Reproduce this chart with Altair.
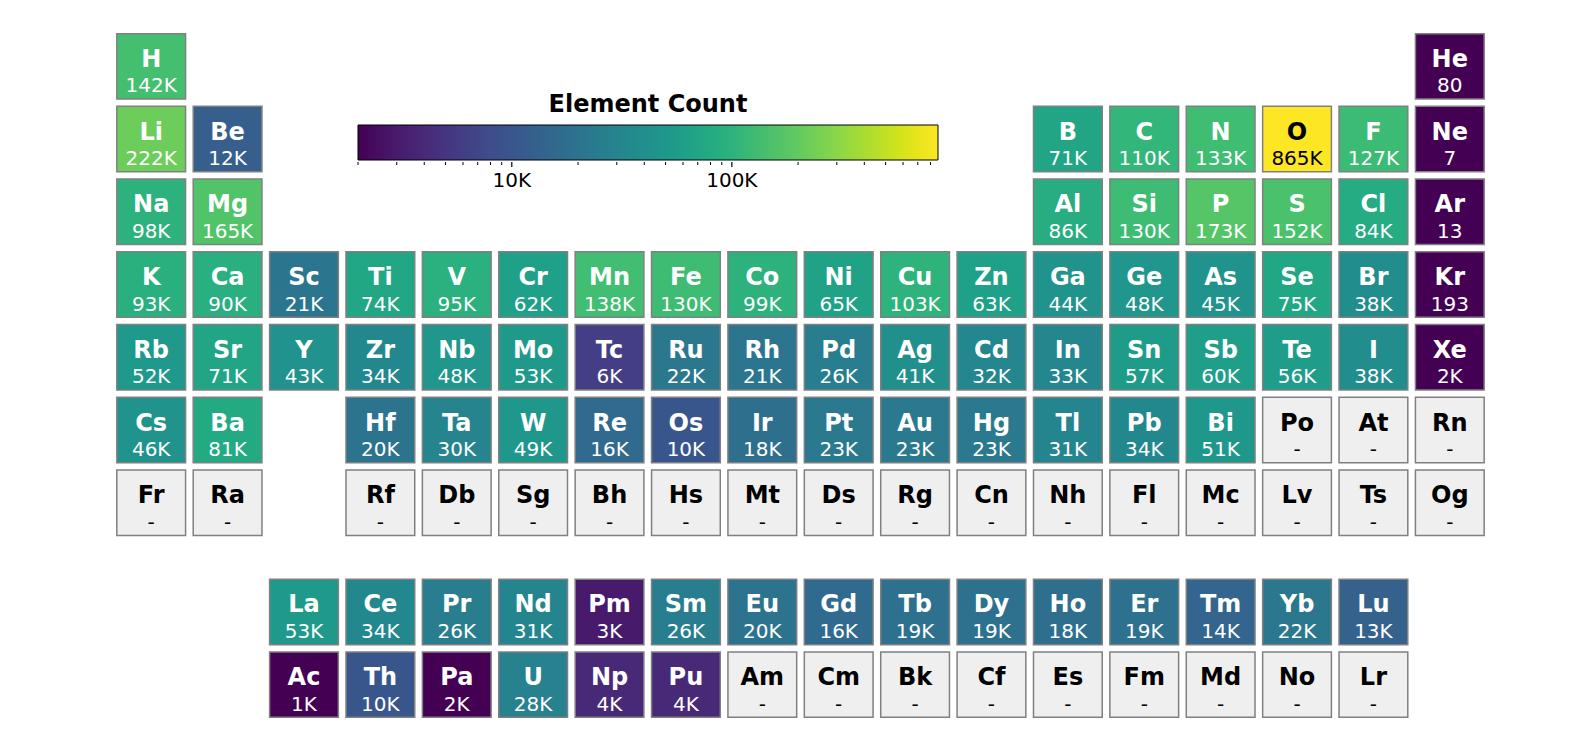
import altair as alt
import pandas as pd

# Element symbols, group (column), period (row) and element count (None = no data)
symbols = [
    "H", "He",
    "Li", "Be", "B", "C", "N", "O", "F", "Ne",
    "Na", "Mg", "Al", "Si", "P", "S", "Cl", "Ar",
    "K", "Ca", "Sc", "Ti", "V", "Cr", "Mn", "Fe", "Co", "Ni", "Cu", "Zn", "Ga", "Ge", "As", "Se", "Br", "Kr",
    "Rb", "Sr", "Y", "Zr", "Nb", "Mo", "Tc", "Ru", "Rh", "Pd", "Ag", "Cd", "In", "Sn", "Sb", "Te", "I", "Xe",
    "Cs", "Ba", "Hf", "Ta", "W", "Re", "Os", "Ir", "Pt", "Au", "Hg", "Tl", "Pb", "Bi", "Po", "At", "Rn",
    "Fr", "Ra", "Rf", "Db", "Sg", "Bh", "Hs", "Mt", "Ds", "Rg", "Cn", "Nh", "Fl", "Mc", "Lv", "Ts", "Og",
    "La", "Ce", "Pr", "Nd", "Pm", "Sm", "Eu", "Gd", "Tb", "Dy", "Ho", "Er", "Tm", "Yb", "Lu",
    "Ac", "Th", "Pa", "U", "Np", "Pu", "Am", "Cm", "Bk", "Cf", "Es", "Fm", "Md", "No", "Lr",
]
groups = (
    [1, 18]
    + [1, 2, 13, 14, 15, 16, 17, 18]
    + [1, 2, 13, 14, 15, 16, 17, 18]
    + list(range(1, 19))
    + list(range(1, 19))
    + [1, 2] + list(range(4, 19))
    + [1, 2] + list(range(4, 19))
    + list(range(3, 18))
    + list(range(3, 18))
)
periods = (
    [1] * 2 + [2] * 8 + [3] * 8 + [4] * 18 + [5] * 18 + [6] * 17 + [7] * 17
    + [8.5] * 15 + [9.5] * 15
)
counts = [
    142000, 80,
    222000, 12000, 71000, 110000, 133000, 865000, 127000, 7,
    98000, 165000, 86000, 130000, 173000, 152000, 84000, 13,
    93000, 90000, 21000, 74000, 95000, 62000, 138000, 130000, 99000, 65000, 103000, 63000,
    44000, 48000, 45000, 75000, 38000, 193,
    52000, 71000, 43000, 34000, 48000, 53000, 6000, 22000, 21000, 26000, 41000, 32000,
    33000, 57000, 60000, 56000, 38000, 2000,
    46000, 81000, 20000, 30000, 49000, 16000, 10000, 18000, 23000, 23000, 23000,
    31000, 34000, 51000, None, None, None,
    None, None, None, None, None, None, None, None, None, None, None, None, None, None, None, None, None,
    53000, 34000, 26000, 31000, 3000, 26000, 20000, 16000, 19000, 19000, 18000, 19000, 14000, 22000, 13000,
    1000, 10000, 2000, 28000, 4000, 4000, None, None, None, None, None, None, None, None, None,
]
color_domain = [2000, 865000]
legend_ticks = [10000, 100000]
minor_ticks = [2000, 3000, 4000, 5000, 6000, 7000, 8000, 9000,
               20000, 30000, 40000, 50000, 60000, 70000, 80000, 90000,
               200000, 300000, 400000, 500000, 600000, 700000, 800000]

GRAD_X0 = 245
GRAD_LEN = 580
GRAD_BOTTOM = 132


def fmt(v):
    if v is None:
        return "-"
    if v >= 1000:
        return f"{round(v / 1000)}K"
    return str(v)


df = pd.DataFrame({"symbol": symbols, "group": groups, "period": periods, "count": counts})
df["label"] = [fmt(v) for v in counts]
df["x1"] = df["group"] - 0.45
df["x2"] = df["group"] + 0.45
df["y1"] = df["period"] - 0.45
df["y2"] = df["period"] + 0.45

xs = alt.Scale(domain=[0.5, 18.5], nice=False, zero=False)
ys = alt.Scale(domain=[0.5, 10.0], nice=False, zero=False, reverse=True)

base = alt.Chart(df)

rect_data = base.transform_filter("datum.count != null").mark_rect(
    stroke="#808080", strokeWidth=1.5
).encode(
    x=alt.X("x1:Q", scale=xs, axis=None),
    x2="x2:Q",
    y=alt.Y("y1:Q", scale=ys, axis=None),
    y2="y2:Q",
    color=alt.Color(
        "count:Q",
        scale=alt.Scale(type="log", domain=color_domain, scheme="viridis", clamp=True),
        legend=alt.Legend(
            orient="none",
            legendX=GRAD_X0,
            legendY=62.5,
            direction="horizontal",
            gradientLength=GRAD_LEN,
            gradientThickness=35,
            gradientStrokeColor="black",
            gradientStrokeWidth=1,
            title="Element Count",
            titleFontSize=24,
            titleFontWeight="bold",
            titleColor="black",
            titleAnchor="middle",
            titleLimit=600,
            titlePadding=8.5,
            labelFontSize=20,
            labelColor="black",
            labelOffset=11,
            values=legend_ticks,
            labelExpr="datum.value / 1000 + 'K'",
        ),
    ),
)

rect_missing = base.transform_filter("datum.count == null").mark_rect(
    stroke="#808080", strokeWidth=1.5, fill="#efefef"
).encode(
    x=alt.X("x1:Q", scale=xs, axis=None),
    x2="x2:Q",
    y=alt.Y("y1:Q", scale=ys, axis=None),
    y2="y2:Q",
)

text_color = alt.condition(
    "datum.count == null || datum.count >= 500000", alt.value("black"), alt.value("white")
)

sym_text = base.mark_text(
    fontSize=24, fontWeight="bold", baseline="alphabetic", align="center", dy=0.5
).encode(
    x=alt.X("group:Q", scale=xs, axis=None),
    y=alt.Y("period:Q", scale=ys, axis=None),
    text="symbol:N",
    color=text_color,
)

val_text = base.mark_text(
    fontSize=20, baseline="alphabetic", align="center", dy=26
).encode(
    x=alt.X("group:Q", scale=xs, axis=None),
    y=alt.Y("period:Q", scale=ys, axis=None),
    text="label:N",
    color=text_color,
)

# colorbar tick marks (drawn on the colorbar's own log scale)
cb_scale = alt.Scale(type="log", domain=color_domain, range=[GRAD_X0, GRAD_X0 + GRAD_LEN], nice=False)

minor_layer = alt.Chart(pd.DataFrame({"v": minor_ticks})).mark_rule(
    color="black", strokeWidth=1
).encode(
    x=alt.X("v:Q", scale=cb_scale, axis=None),
    y=alt.value(GRAD_BOTTOM),
    y2=alt.value(GRAD_BOTTOM + 3),
)

major_layer = alt.Chart(pd.DataFrame({"v": legend_ticks})).mark_rule(
    color="black", strokeWidth=1.2
).encode(
    x=alt.X("v:Q", scale=cb_scale, axis=None),
    y=alt.value(GRAD_BOTTOM),
    y2=alt.value(GRAD_BOTTOM + 5),
)

chart = (
    alt.layer(rect_data, rect_missing, sym_text, val_text, minor_layer, major_layer)
    .resolve_scale(x="independent")
    .properties(
        width=1375,
        height=691,
        padding={"left": 105, "top": 22, "right": 10, "bottom": 10},
        autosize=alt.AutoSizeParams(type="none"),
    )
    .configure(font="DejaVu Sans")
    .configure_view(stroke=None, strokeWidth=0)
)

chart.save("out.html", embed_options={"renderer": "svg", "actions": False})
